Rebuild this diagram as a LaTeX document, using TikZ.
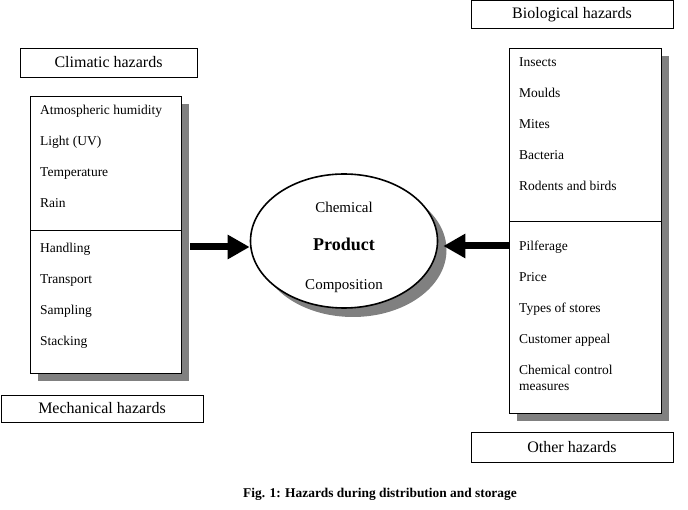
\documentclass[tikz,border=0pt]{standalone}
\usepackage{fontspec}
\setmainfont{Liberation Serif}
\usetikzlibrary{positioning,arrows.meta,shapes.geometric,shadows}
\definecolor{shade}{RGB}{128,128,128}

\begin{document}
\begin{tikzpicture}[x=1pt,y=-1pt,
		tag/.style={draw, line width=0.8pt, inner sep=0pt, font=\fontsize{16}{18}\selectfont},
		panel/.style={draw, line width=0.8pt, fill=white, inner sep=0pt, anchor=north west,
			drop shadow={shadow xshift=8pt, shadow yshift=-8pt, fill=shade, opacity=1}},
		items/.style={anchor=base west, inner sep=0pt, font=\fontsize{13.5}{31}\selectfont},
		bigarr/.style={line width=7pt, -{Triangle[length=22pt,width=23pt]}}]
		\useasboundingbox (0,0) rectangle (688,510);
		% headings
		\node[tag, minimum width=177pt, minimum height=29pt] (clim) at (108.5,62.5) {Climatic hazards};
		\node[tag, minimum width=202pt, minimum height=27pt] (mech) at (102,408.5) {Mechanical hazards};
		\node[tag, minimum width=202pt, minimum height=28pt] (bio) at (572,14.8) {Biological hazards};
		\node[tag, minimum width=202pt, minimum height=30pt] (oth) at (572,447) {Other hazards};
		% left panel
		\node[panel, minimum width=151pt, minimum height=134pt] (ltop) at (30,96) {};
		\node[panel, minimum width=151pt, minimum height=143pt] (lbot) at (30,230) {};
		\node[items] (lclim) at (40,115)
			{\begin{minipage}[t]{135pt}Atmospheric humidity\\Light (UV)\\Temperature\\Rain\end{minipage}};
		\node[items] (lmech) at (40,253)
			{\begin{minipage}[t]{135pt}Handling\\Transport\\Sampling\\Stacking\end{minipage}};
		% right panel
		\node[panel, minimum width=152pt, minimum height=173pt] (rtop) at (509,48) {};
		\node[panel, minimum width=152pt, minimum height=192pt] (rbot) at (509,221) {};
		\node[items] (rbio) at (519,67)
			{\begin{minipage}[t]{135pt}Insects\\Moulds\\Mites\\Bacteria\\Rodents and birds\end{minipage}};
		\node[items] (roth) at (519,251)
			{\begin{minipage}[t]{135pt}Pilferage\\Price\\Types of stores\\Customer appeal\\Chemical control\\[-15pt]measures\end{minipage}};
		% product
		\node[ellipse, draw, line width=1.6pt, fill=white, inner sep=0pt,
			minimum width=187pt, minimum height=134pt,
			drop shadow={shadow xshift=9pt, shadow yshift=-9pt, fill=shade, opacity=1}] (prod) at (344,241) {};
		\node[align=center, font=\fontsize{15}{38.5}\selectfont] (prodtext) at (344,247)
			{Chemical\\{\bfseries\fontsize{18}{20}\selectfont Product}\\Composition};
		\draw[bigarr] ([xshift=8pt,yshift=-6pt]lbot.north east |- prod.west) -- ([yshift=-6pt]prod.west);
		\draw[bigarr] ([yshift=-5pt]rbot.north west |- prod.east) -- ([xshift=5pt,yshift=-5pt]prod.east);
		% caption
		\node[font=\bfseries\fontsize{13.4}{15}\selectfont] (cap) at (380,494)
			{Fig. 1: Hazards during distribution and storage};
	\end{tikzpicture}
\end{document}
